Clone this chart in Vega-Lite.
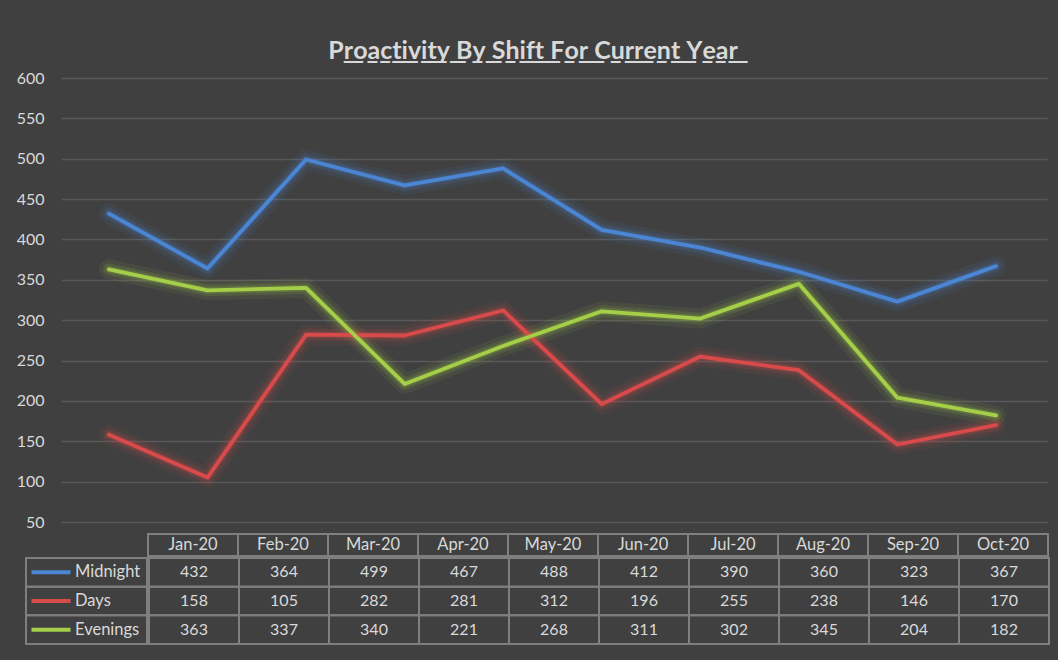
{
  "$schema": "https://vega.github.io/schema/vega-lite/v6.json",
  "background": "#404040",
  "padding": {"left": 16, "top": 39, "right": 10, "bottom": 15},
  "title": {"text": "P̲r̲o̲a̲c̲t̲i̲v̲i̲t̲y̲ ̲B̲y̲ ̲S̲h̲i̲f̲t̲ ̲F̲o̲r̲ ̲C̲u̲r̲r̲e̲n̲t̲ ̲Y̲e̲a̲r̲", "font": "Lato", "fontSize": 25, "fontWeight": "bold", "color": "#d9d9d9", "anchor": "middle", "offset": 6},
  "datasets": {
    "shifts": [
      {"series": "Midnight", "month": "Jan-20", "value": 432},
      {"series": "Midnight", "month": "Feb-20", "value": 364},
      {"series": "Midnight", "month": "Mar-20", "value": 499},
      {"series": "Midnight", "month": "Apr-20", "value": 467},
      {"series": "Midnight", "month": "May-20", "value": 488},
      {"series": "Midnight", "month": "Jun-20", "value": 412},
      {"series": "Midnight", "month": "Jul-20", "value": 390},
      {"series": "Midnight", "month": "Aug-20", "value": 360},
      {"series": "Midnight", "month": "Sep-20", "value": 323},
      {"series": "Midnight", "month": "Oct-20", "value": 367},
      {"series": "Days", "month": "Jan-20", "value": 158},
      {"series": "Days", "month": "Feb-20", "value": 105},
      {"series": "Days", "month": "Mar-20", "value": 282},
      {"series": "Days", "month": "Apr-20", "value": 281},
      {"series": "Days", "month": "May-20", "value": 312},
      {"series": "Days", "month": "Jun-20", "value": 196},
      {"series": "Days", "month": "Jul-20", "value": 255},
      {"series": "Days", "month": "Aug-20", "value": 238},
      {"series": "Days", "month": "Sep-20", "value": 146},
      {"series": "Days", "month": "Oct-20", "value": 170},
      {"series": "Evenings", "month": "Jan-20", "value": 363},
      {"series": "Evenings", "month": "Feb-20", "value": 337},
      {"series": "Evenings", "month": "Mar-20", "value": 340},
      {"series": "Evenings", "month": "Apr-20", "value": 221},
      {"series": "Evenings", "month": "May-20", "value": 268},
      {"series": "Evenings", "month": "Jun-20", "value": 311},
      {"series": "Evenings", "month": "Jul-20", "value": 302},
      {"series": "Evenings", "month": "Aug-20", "value": 345},
      {"series": "Evenings", "month": "Sep-20", "value": 204},
      {"series": "Evenings", "month": "Oct-20", "value": 182}
    ]
  },
  "spacing": 3,
  "vconcat": [
    {
      "width": 1021,
      "height": 444,
      "data": {"name": "shifts"},
      "encoding": {
        "x": {"field": "month", "type": "ordinal", "sort": ["Jan-20","Feb-20","Mar-20","Apr-20","May-20","Jun-20","Jul-20","Aug-20","Sep-20","Oct-20"], "scale": {"type": "point", "padding": 0.68, "align": 0.619}, "axis": null},
        "color": {"field": "series", "type": "nominal", "scale": {"domain": ["Midnight", "Days", "Evenings"], "range": ["#4A86D4", "#D94A4A", "#A5CF48"]}, "legend": null},
        "detail": {"field": "series"}
      },
      "layer": [
        {
          "encoding": {
            "y": {"field": "value", "type": "quantitative", "scale": {"domain": [50, 600], "nice": false, "zero": false},
                  "axis": {"orient": "right", "values": [50,100,150,200,250,300,350,400,450,500,550,600], "grid": false, "domain": false, "labels": false, "ticks": true, "tickSize": -986, "tickColor": "#585858", "tickWidth": 1.5, "minExtent": 0, "maxExtent": 0, "title": null}}
          },
          "layer": [
            {"mark": {"type": "line", "strokeWidth": 20, "opacity": 0.08, "strokeCap": "round", "strokeJoin": "round"}},
            {"mark": {"type": "line", "strokeWidth": 12, "opacity": 0.13, "strokeCap": "round", "strokeJoin": "round"}},
            {"mark": {"type": "line", "strokeWidth": 7, "opacity": 0.2, "strokeCap": "round", "strokeJoin": "round"}}
          ]
        },
        {
          "mark": {"type": "line", "strokeWidth": 3.8, "strokeCap": "round", "strokeJoin": "round"},
          "encoding": {
            "y": {"field": "value", "type": "quantitative", "scale": {"domain": [50, 600], "nice": false, "zero": false},
                  "axis": {"orient": "left", "values": [50,100,150,200,250,300,350,400,450,500,550,600], "grid": false, "domain": false, "ticks": false, "labelColor": "#d9d9d9", "labelFont": "Lato", "labelFontSize": 16, "labelPadding": -18, "minExtent": 0, "maxExtent": 0, "title": null}}
          }
        }
      ],
      "resolve": {"axis": {"y": "independent"}}
    },
    {
      "spacing": 0,
      "vconcat": [
        {
          "spacing": 0,
          "hconcat": [
            {
              "width": 121, "height": 22,
              "data": {"values": [{"blank": ""}]},
              "mark": {"type": "text", "text": ""},
              "encoding": {}
            },
            {
              "width": 900, "height": 22,
              "data": {"name": "shifts"},
              "transform": [{"filter": "datum.series === 'Midnight'"}],
              "encoding": {
                "x": {"field": "month", "type": "ordinal", "sort": ["Jan-20","Feb-20","Mar-20","Apr-20","May-20","Jun-20","Jul-20","Aug-20","Sep-20","Oct-20"], "scale": {"type": "band", "paddingInner": 0, "paddingOuter": 0}, "axis": null}
              },
              "layer": [
                {"mark": {"type": "rect", "fillOpacity": 0, "stroke": "#7f7f7f", "strokeWidth": 2}},
                {"mark": {"type": "text", "color": "#d9d9d9", "font": "Lato", "fontSize": 16.5}, "encoding": {"text": {"field": "month"}}}
              ]
            }
          ]
        },
        {
          "spacing": 0,
          "hconcat": [
            {
              "width": 121, "height": 86,
              "data": {"name": "shifts"},
              "transform": [{"filter": "datum.month === 'Jan-20'"}],
              "encoding": {
                "y": {"field": "series", "type": "nominal", "sort": ["Midnight", "Days", "Evenings"], "scale": {"type": "band", "paddingInner": 0, "paddingOuter": 0}, "axis": null}
              },
              "layer": [
                {"mark": {"type": "rect", "fillOpacity": 0, "stroke": "#7f7f7f", "strokeWidth": 2}},
                {"mark": {"type": "point", "shape": "M-5.5,0L-1.6,0", "size": 400, "filled": false, "strokeWidth": 4, "opacity": 1},
                 "encoding": {"color": {"field": "series", "type": "nominal", "scale": {"domain": ["Midnight", "Days", "Evenings"], "range": ["#4A86D4", "#D94A4A", "#A5CF48"]}, "legend": null}}},
                {"mark": {"type": "text", "color": "#d9d9d9", "font": "Lato", "fontSize": 16.5, "align": "left", "dx": -11.5}, "encoding": {"text": {"field": "series"}}}
              ]
            },
            {
              "width": 900, "height": 86,
              "data": {"name": "shifts"},
              "encoding": {
                "x": {"field": "month", "type": "ordinal", "sort": ["Jan-20","Feb-20","Mar-20","Apr-20","May-20","Jun-20","Jul-20","Aug-20","Sep-20","Oct-20"], "scale": {"type": "band", "paddingInner": 0, "paddingOuter": 0}, "axis": null},
                "y": {"field": "series", "type": "nominal", "sort": ["Midnight", "Days", "Evenings"], "scale": {"type": "band", "paddingInner": 0, "paddingOuter": 0}, "axis": null}
              },
              "layer": [
                {"mark": {"type": "rect", "fillOpacity": 0, "stroke": "#7f7f7f", "strokeWidth": 2}},
                {"mark": {"type": "text", "color": "#d9d9d9", "font": "Lato", "fontSize": 16}, "encoding": {"text": {"field": "value", "type": "quantitative"}}}
              ]
            }
          ]
        }
      ]
    }
  ],
  "config": {"view": {"stroke": null}, "font": "Lato"}
}
